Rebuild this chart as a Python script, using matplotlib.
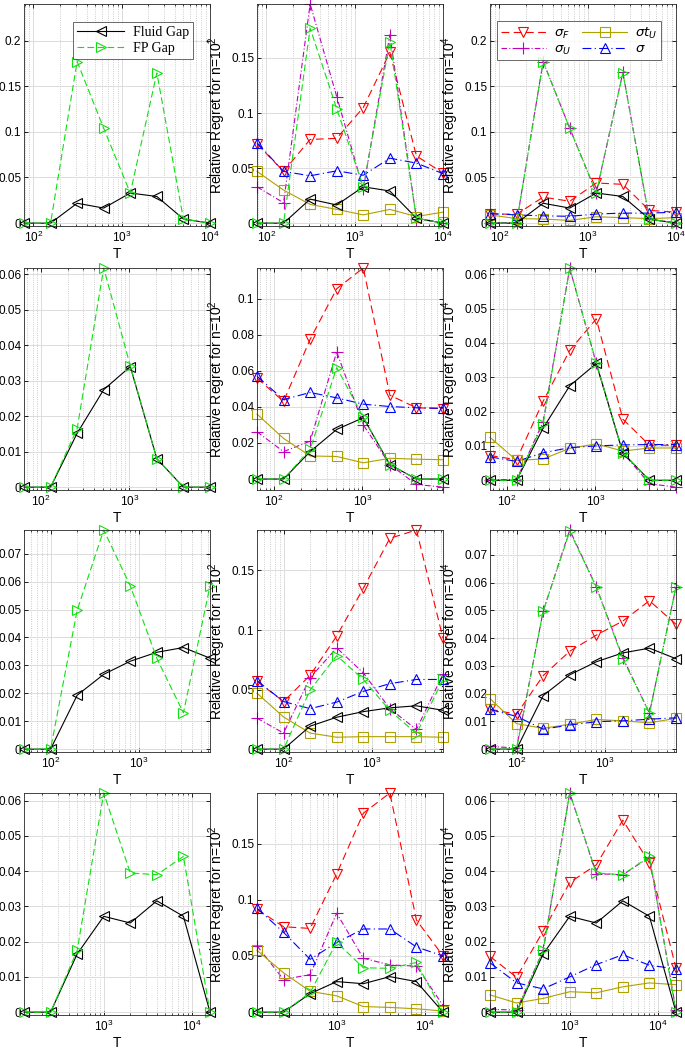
import numpy as np
import matplotlib
matplotlib.use('Agg')
import matplotlib.pyplot as plt
from matplotlib.ticker import MultipleLocator, LogLocator, FuncFormatter, NullFormatter

plt.rcParams['font.family'] = ['Liberation Sans', 'DejaVu Sans']
plt.rcParams['font.size'] = 9

# horizon values per row
T1 = [78.125, 156.25, 312.5, 625, 1250, 2500, 5000, 10000]
T2 = [64, 128, 256, 512, 1024, 2048, 4096, 8192]
T3 = [50, 100, 200, 400, 800, 1600, 3200, 6400]
T4 = [125, 250, 500, 1000, 2000, 4000, 8000, 16000]

# row 1
fluid_1 = [0, 0, 0.0218, 0.0165, 0.0330, 0.0292, 0.0045, 0]
fp_1 = [0, 0, 0.1770, 0.1038, 0.0330, 0.1645, 0.0045, 0]
sigF_1a = [0.0720, 0.0470, 0.0760, 0.0770, 0.1050, 0.1550, 0.0610, 0.0455]
sigU_1a = [0.0330, 0.0185, 0.1990, 0.1150, 0.0310, 0.1710, 0.0040, 0.0005]
sigtU_1a = [0.0470, 0.0300, 0.0170, 0.0125, 0.0075, 0.0125, 0.0060, 0.0100]
sig_1a = [0.0730, 0.0470, 0.0430, 0.0475, 0.0435, 0.0590, 0.0545, 0.0450]
sigF_1b = [0.0100, 0.0098, 0.0285, 0.0240, 0.0440, 0.0425, 0.0140, 0.0120]
sigU_1b = [0.0005, 0.0003, 0.1770, 0.1040, 0.0332, 0.1650, 0.0040, 0.0005]
sigtU_1b = [0.0090, 0.0050, 0.0045, 0.0030, 0.0070, 0.0060, 0.0050, 0.0060]
sig_1b = [0.0105, 0.0090, 0.0080, 0.0075, 0.0100, 0.0110, 0.0110, 0.0120]

# row 2
fluid_2 = [0, 0, 0.0152, 0.0275, 0.0340, 0.0080, 0, 0]
fp_2 = [0, 0, 0.0165, 0.0618, 0.0342, 0.0080, 0, 0]
sigF_2a = [0.0560, 0.0430, 0.0775, 0.1055, 0.1170, 0.0465, 0.0395, 0.0390]
sigU_2a = [0.0262, 0.0152, 0.0210, 0.0705, 0.0300, 0.0080, -0.0030, -0.0045]
sigtU_2a = [0.0360, 0.0225, 0.0128, 0.0125, 0.0090, 0.0115, 0.0110, 0.0107]
sig_2a = [0.0570, 0.0440, 0.0480, 0.0450, 0.0415, 0.0402, 0.0395, 0.0392]
sigF_2b = [0.0072, 0.0060, 0.0230, 0.0378, 0.0470, 0.0178, 0.0102, 0.0102]
sigU_2b = [0.0002, 0.0002, 0.0170, 0.0618, 0.0340, 0.0080, -0.0010, -0.0020]
sigtU_2b = [0.0125, 0.0058, 0.0062, 0.0093, 0.0106, 0.0085, 0.0094, 0.0094]
sig_2b = [0.0068, 0.0055, 0.0080, 0.0095, 0.0100, 0.0103, 0.0104, 0.0104]

# row 3
fluid_3 = [0, 0, 0.0193, 0.0268, 0.0315, 0.0347, 0.0364, 0.0326]
fp_3 = [0, 0, 0.0497, 0.0785, 0.0585, 0.0325, 0.0130, 0.0585]
sigF_3a = [0.0570, 0.0400, 0.0620, 0.0950, 0.1350, 0.1770, 0.1840, 0.0930]
sigU_3a = [0.0260, 0.0135, 0.0600, 0.0850, 0.0640, 0.0340, 0.0165, 0.0630]
sigtU_3a = [0.0470, 0.0270, 0.0135, 0.0100, 0.0105, 0.0105, 0.0105, 0.0100]
sig_3a = [0.0575, 0.0400, 0.0340, 0.0395, 0.0485, 0.0550, 0.0585, 0.0585]
sigF_3b = [0.0144, 0.0126, 0.0265, 0.0353, 0.0411, 0.0462, 0.0535, 0.0450]
sigU_3b = [0.0010, 0.0004, 0.0497, 0.0790, 0.0585, 0.0330, 0.0130, 0.0585]
sigtU_3b = [0.0182, 0.0092, 0.0075, 0.0090, 0.0107, 0.0102, 0.0095, 0.0111]
sig_3b = [0.0143, 0.0118, 0.0072, 0.0087, 0.0099, 0.0102, 0.0108, 0.0113]

# row 4
fluid_4 = [0, 0, 0.0165, 0.0272, 0.0253, 0.0316, 0.0272, 0]
fp_4 = [0, 0, 0.0175, 0.0622, 0.0395, 0.0390, 0.0442, 0]
sigF_4a = [0.0915, 0.0760, 0.0745, 0.1230, 0.1770, 0.1950, 0.0820, 0.0500]
sigU_4a = [0.0590, 0.0290, 0.0335, 0.0880, 0.0480, 0.0420, 0.0410, 0.0060]
sigtU_4a = [0.0550, 0.0350, 0.0185, 0.0145, 0.0050, 0.0042, 0.0030, 0.0010]
sig_4a = [0.0925, 0.0710, 0.0470, 0.0620, 0.0740, 0.0740, 0.0580, 0.0500]
sigF_4b = [0.0158, 0.0099, 0.0230, 0.0368, 0.0418, 0.0545, 0.0423, 0.0125]
sigU_4b = [0.0008, 0.0006, 0.0175, 0.0622, 0.0393, 0.0390, 0.0440, 0.0005]
sigtU_4b = [0.0049, 0.0026, 0.0039, 0.0058, 0.0055, 0.0072, 0.0083, 0.0078]
sig_4b = [0.0140, 0.0083, 0.0066, 0.0100, 0.0135, 0.0163, 0.0133, 0.0123]

rows = [
    (T1, fluid_1, fp_1, (sigF_1a, sigU_1a, sigtU_1a, sig_1a), (sigF_1b, sigU_1b, sigtU_1b, sig_1b)),
    (T2, fluid_2, fp_2, (sigF_2a, sigU_2a, sigtU_2a, sig_2a), (sigF_2b, sigU_2b, sigtU_2b, sig_2b)),
    (T3, fluid_3, fp_3, (sigF_3a, sigU_3a, sigtU_3a, sig_3a), (sigF_3b, sigU_3b, sigtU_3b, sig_3b)),
    (T4, fluid_4, fp_4, (sigF_4a, sigU_4a, sigtU_4a, sig_4a), (sigF_4b, sigU_4b, sigtU_4b, sig_4b)),
]
# y tick steps per row (left, middle, right)
ystep = [(0.05, 0.05, 0.05), (0.01, 0.02, 0.01), (0.01, 0.05, 0.01), (0.01, 0.05, 0.01)]

GREEN = '#10e010'
OLIVE = '#b0a000'
fluid_st = dict(color='k', ls='-', marker='<')
fp_st = dict(color=GREEN, ls=(0, (6, 3)), marker='>')
sig_styles = [
    dict(color='r', ls=(0, (7, 4)), marker='v', label=r'$\sigma_F$'),
    dict(color='m', ls=(0, (5, 2, 1, 2)), marker='+', label=r'$\sigma_U$'),
    dict(color=OLIVE, ls='-', marker='s', label=r'$\sigma t_U$'),
    dict(color='b', ls=(0, (8, 3, 1, 3)), marker='^', label=r'$\sigma$'),
]

W, H = 685, 1052
fig = plt.figure(figsize=(W / 100, H / 100), dpi=100)
lefts = [24, 257, 490]
tops = [4, 268, 530, 793]
aw, ah = 186, 222


def logfmt(v, pos):
    k = int(round(np.log10(v)))
    return r'$\mathregular{10^{%d}}$' % k


def plot_line(ax, x, y, st, **kw):
    st = dict(st)
    mk = st.pop('marker')
    ms = 9 if mk == '+' else 7
    ax.plot(x, y, marker=mk, ms=ms, mfc='none', mew=0.8, lw=0.8, clip_on=False, **st, **kw)


axes_list = []
for r, (T, fl, fp, sa, sb) in enumerate(rows):
    for c in range(3):
        ax = fig.add_axes([lefts[c] / W, 1 - (tops[r] + ah) / H, aw / W, ah / H])
        series = [fl, fp]
        if c == 1:
            series = series + list(sa)
        elif c == 2:
            series = series + list(sb)
        if c > 0:
            sets = sa if c == 1 else sb
            for y, st in zip(sets, sig_styles):
                plot_line(ax, T, y, st)
        plot_line(ax, T, fl, fluid_st, label='Fluid Gap')
        plot_line(ax, T, fp, fp_st, label='FP Gap')
        ax.set_xscale('log')
        ax.set_xlim(T[0], T[-1])
        lo = min(min(s) for s in series)
        hi = max(max(s) for s in series)
        if r == 0 and c != 1:
            hi = 0.24
        ax.set_ylim(lo - 0.013 * (hi - lo), hi)
        ax.yaxis.set_major_locator(MultipleLocator(ystep[r][c]))
        ax.yaxis.set_major_formatter(FuncFormatter(lambda v, p: '%g' % round(v, 4)))
        ax.xaxis.set_major_locator(LogLocator(base=10, numticks=10))
        ax.xaxis.set_minor_locator(LogLocator(base=10, subs=np.arange(2, 10), numticks=20))
        ax.xaxis.set_major_formatter(FuncFormatter(logfmt))
        ax.xaxis.set_minor_formatter(NullFormatter())
        ax.grid(True, which='major', color='#dcdcdc', lw=0.7)
        ax.grid(True, which='minor', axis='x', color='#bdbdbd', lw=0.6, ls=':')
        ax.set_axisbelow(True)
        ax.tick_params(which='both', direction='in', top=True, right=True, labelsize=8.5)
        ax.tick_params(which='major', length=3, width=0.6, pad=3)
        ax.tick_params(which='minor', length=1.5, width=0.5)
        ax.tick_params(axis='y', pad=2)
        for sp in ax.spines.values():
            sp.set_linewidth(0.6)
            sp.set_color('#262626')
        ax.set_xlabel('T', fontsize=10, labelpad=1)
        if c == 1:
            ax.set_ylabel(r'Relative Regret for n=$\mathregular{10^2}$', fontsize=10)
            ax.yaxis.set_label_coords(-0.155, 0.5)
        elif c == 2:
            ax.set_ylabel(r'Relative Regret for n=$\mathregular{10^4}$', fontsize=10)
            ax.yaxis.set_label_coords(-0.155, 0.5)
        axes_list.append(ax)

# legends in the first row
ax0 = axes_list[0]
leg = ax0.legend(loc='upper right', bbox_to_anchor=(0.946, 0.951), fancybox=False,
                 edgecolor='#262626', handlelength=3.4, borderpad=0.3, labelspacing=0.2,
                 handletextpad=0.6, prop={'family': 'Liberation Serif', 'size': 10})
leg.get_frame().set_linewidth(0.6)

ax2 = axes_list[2]
hs = []
for st in sig_styles:
    st = dict(st)
    lab = st.pop('label')
    mk = st.pop('marker')
    h, = ax2.plot([], [], marker=mk, ms=9 if mk == '+' else 7, mfc='none', mew=0.8, lw=0.8, label=lab, **st)
    hs.append(h)
leg2 = ax2.legend(handles=hs, loc='upper right', bbox_to_anchor=(0.957, 0.951), ncol=2, fancybox=False,
                  edgecolor='#262626', handlelength=3.4, borderpad=0.3, labelspacing=0.2,
                  handletextpad=0.6, columnspacing=0.9, fontsize=9.5)
leg2.get_frame().set_linewidth(0.6)

fig.savefig('out.png', dpi=100)
